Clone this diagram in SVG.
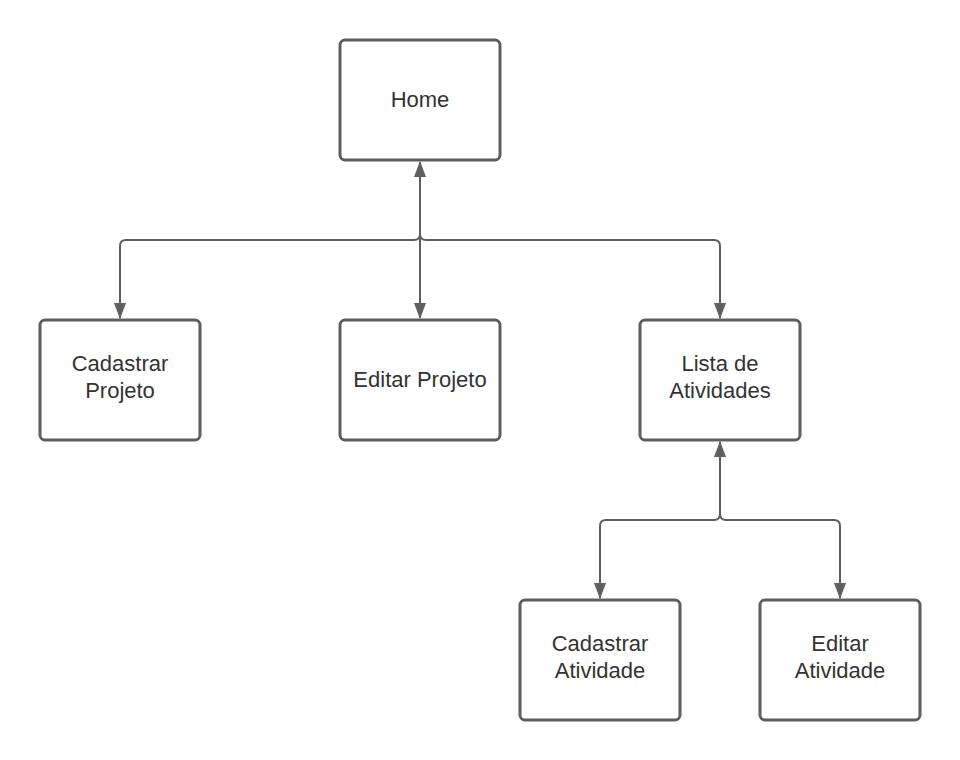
<svg xmlns="http://www.w3.org/2000/svg" width="960" height="760" viewBox="0 0 960 760">
<defs>
<style>
.box{fill:#ffffff;stroke:#5e5e5e;stroke-width:3}
.lbl{font-family:"Liberation Sans",Arial,sans-serif;font-size:22px;fill:#333333;text-anchor:middle}
.con{fill:none;stroke:#5e5e5e;stroke-width:2}
</style>
<marker id="ah" viewBox="0 0 16 12" refX="15" refY="6" markerWidth="16" markerHeight="12" markerUnits="userSpaceOnUse" orient="auto-start-reverse">
<path d="M0,0 L16,6 L0,12 Z" fill="#5e5e5e"/>
</marker>
</defs>
<rect width="960" height="760" fill="#ffffff"/>
<g id="connectors">
<path class="con" d="M420,162 L420,318" marker-start="url(#ah)" marker-end="url(#ah)"/>
<path class="con" d="M420,162 L420,234 Q420,240 414,240 L126,240 Q120,240 120,246 L120,318" marker-end="url(#ah)"/>
<path class="con" d="M420,162 L420,234 Q420,240 426,240 L714,240 Q720,240 720,246 L720,318" marker-end="url(#ah)"/>
<path class="con" d="M720,442 L720,514 Q720,520 714,520 L606,520 Q600,520 600,526 L600,598" marker-start="url(#ah)" marker-end="url(#ah)"/>
<path class="con" d="M720,442 L720,514 Q720,520 726,520 L834,520 Q840,520 840,526 L840,598" marker-end="url(#ah)"/>
</g>
<g id="home">
<rect class="box" x="340" y="40" width="160" height="120" rx="5"/>
<text class="lbl" x="420" y="107">Home</text>
</g>
<g id="cadastrar-projeto">
<rect class="box" x="40" y="320" width="160" height="120" rx="5"/>
<text class="lbl" x="120" y="371">Cadastrar</text>
<text class="lbl" x="120" y="398">Projeto</text>
</g>
<g id="editar-projeto">
<rect class="box" x="340" y="320" width="160" height="120" rx="5"/>
<text class="lbl" x="420" y="387">Editar Projeto</text>
</g>
<g id="lista-atividades">
<rect class="box" x="640" y="320" width="160" height="120" rx="5"/>
<text class="lbl" x="720" y="371">Lista de</text>
<text class="lbl" x="720" y="398">Atividades</text>
</g>
<g id="cadastrar-atividade">
<rect class="box" x="520" y="600" width="160" height="120" rx="5"/>
<text class="lbl" x="600" y="651">Cadastrar</text>
<text class="lbl" x="600" y="678">Atividade</text>
</g>
<g id="editar-atividade">
<rect class="box" x="760" y="600" width="160" height="120" rx="5"/>
<text class="lbl" x="840" y="651">Editar</text>
<text class="lbl" x="840" y="678">Atividade</text>
</g>
</svg>
